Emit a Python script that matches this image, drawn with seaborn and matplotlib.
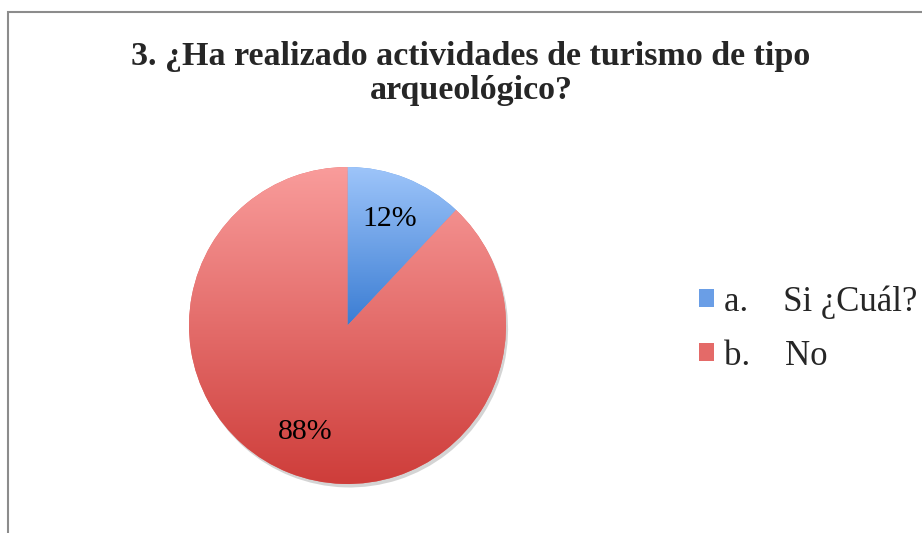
import numpy as np
import matplotlib
matplotlib.use("Agg")
import matplotlib.pyplot as plt
import matplotlib.patheffects as pe
from matplotlib.colors import LinearSegmentedColormap
from matplotlib.patches import Rectangle, Patch
import seaborn as sns

# ---- data ----
categories = ["a.    Si ¿Cuál?", "b.    No"]
values = [12, 88]
title_lines = ["3. ¿Ha realizado actividades de turismo de tipo", "arqueológico?"]
top_colors = ["#9EC5FA", "#F99C9B"]
bottom_colors = ["#3B7DD3", "#CE3D3A"]
mid_colors = ["#6A9EE6", "#E46A68"]

sns.set_theme(style="white")
plt.rcParams['font.family'] = ['Liberation Serif', 'DejaVu Serif']

W, H = 922, 533
fig = plt.figure(figsize=(W / 100, H / 100), dpi=100)
fig.patch.set_facecolor("white")

# chart frame (cropped at right / bottom)
fig.patches.append(Rectangle((8 / W, -0.1), 1.2, (H - 12) / H + 0.1,
                             transform=fig.transFigure, fill=False,
                             edgecolor="#8C8C8C", linewidth=1.5, zorder=0))

cx, cy, r = 347.5, 325.5, 158.5
ax = fig.add_axes([(cx - r) / W, (H - cy - r) / H, 2 * r / W, 2 * r / H])

wedges, texts, autotexts = ax.pie(
    values, startangle=90, counterclock=False, colors=mid_colors,
    autopct=lambda p: f"{p:.0f}%", pctdistance=0.72,
    textprops=dict(fontsize=21.5, color="black"),
    wedgeprops=dict(linewidth=0))
ax.set_aspect("equal")

for w, ct, cb in zip(wedges, top_colors, bottom_colors):
    w.set_path_effects([pe.SimplePatchShadow(offset=(1.5, -2.5), alpha=0.25,
                                             shadow_rgbFace="#555555"),
                        pe.Normal()])
    ext = w.get_path().get_extents()
    cmap = LinearSegmentedColormap.from_list("g", [cb, ct])
    grad = np.linspace(0, 1, 256).reshape(-1, 1)
    im = ax.imshow(grad, cmap=cmap, origin="lower", aspect="auto",
                   extent=[ext.x0, ext.x1, ext.y0, ext.y1], zorder=2,
                   interpolation="bilinear")
    im.set_clip_path(w)
for t in autotexts:
    t.set_zorder(5)
ax.set_xlim(-1, 1)
ax.set_ylim(-1, 1)

# title
tx = 471 / W
fig.text(tx, 1 - 65 / H, title_lines[0], ha="center", va="baseline",
         fontsize=24.5, fontweight="bold")
fig.text(tx, 1 - 99 / H, title_lines[1], ha="center", va="baseline",
         fontsize=24.5, fontweight="bold")

# legend
handles = [Patch(facecolor=c, edgecolor="none") for c in mid_colors]
fig.legend(handles, categories, loc="center left",
           bbox_to_anchor=(699 / W, 1 - 329 / H), frameon=False,
           borderpad=0, borderaxespad=0,
           fontsize=25, handlelength=0.42, handleheight=0.42,
           handletextpad=0.3, labelspacing=0.6)

fig.savefig("out.png", dpi=100, facecolor="white")
